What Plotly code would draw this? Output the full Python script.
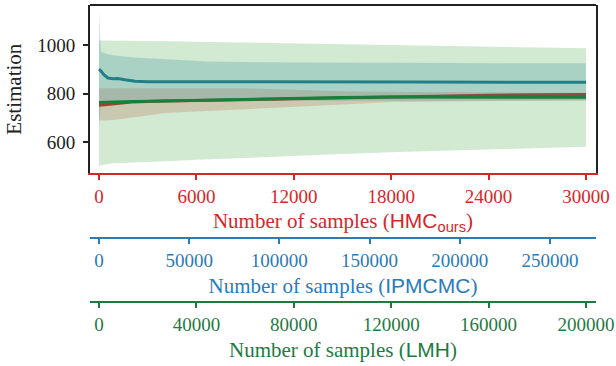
import plotly.graph_objects as go

# ---------------- data ----------------
# HMC (ours): x in samples (0..30000)
hmc_x = [0, 300, 1000, 2000, 3000, 4000, 6000, 9000, 12000, 15000, 18000, 21000, 24000, 27000, 30000]
hmc_mean = [752, 753, 758, 765, 768, 770, 772, 776, 779, 783, 787, 790, 793, 795, 796]
hmc_upper = [822, 822, 823, 824, 824, 824, 823, 822, 816, 810, 808, 806, 805, 804, 804]
hmc_lower = [689, 690, 693, 700, 710, 720, 728, 735, 745, 755, 765, 768, 770, 771, 772]

# IPMCMC: x in samples (0..270000)
ipm_x = [0, 1100, 2700, 5000, 7800, 10500, 14400, 20000, 27000, 40000, 60000, 90000, 130000, 180000, 230000, 270000]
ipm_mean = [900, 893, 878, 864, 861, 862, 857, 851, 849, 849, 851, 851, 850, 848, 847, 847]
ipm_upper = [1135, 972, 968, 962, 958, 955, 952, 948, 945, 940, 932, 929, 927, 926, 925, 925]
ipm_lower = [660, 770, 770, 770, 770, 770, 770, 771, 771, 771, 771, 772, 772, 772, 772, 772]

# LMH: x in samples (0..200000)
lmh_x = [0, 1000, 3000, 6000, 10000, 15000, 22000, 30000, 40000, 60000, 80000, 100000, 120000, 140000, 160000, 180000, 200000]
lmh_mean = [763, 764, 765, 766, 767, 768, 769, 771, 774, 777, 781, 784, 786, 786, 786, 785, 785]
lmh_upper = [1018, 1018, 1017, 1016, 1016, 1016, 1016, 1015, 1013, 1010, 1007, 1004, 1001, 998, 994, 990, 986]
lmh_lower = [504, 507, 510, 514, 517, 519, 521, 523, 528, 537, 545, 552, 559, 566, 572, 577, 582]

hmc_ticks = [0, 6000, 12000, 18000, 24000, 30000]
ipm_ticks = [0, 50000, 100000, 150000, 200000, 250000]
lmh_ticks = [0, 40000, 80000, 120000, 160000, 200000]
y_ticks = [600, 800, 1000]

# ---------------- style ----------------
RED = "#d62728"
BLUE = "#2b7bba"
GREEN = "#1f7a3f"
SERIF = "Liberation Serif"
SANS = "Liberation Sans"
FS = 19   # tick labels
FT = 21   # titles

W, H = 616, 366
ML, MR, MT, MB = 90, 20, 5, 0
ph = H - MT - MB


def ypos(px):
    return (H - MB - px) / ph


fig = go.Figure()


def band(xs, up, lo, color, xa):
    fig.add_trace(go.Scatter(x=list(xs) + list(xs)[::-1], y=list(up) + list(lo)[::-1],
                             fill="toself", fillcolor=color, line=dict(width=0),
                             mode="lines", xaxis=xa, yaxis="y", hoverinfo="skip",
                             showlegend=False))


band(lmh_x, lmh_upper, lmh_lower, "rgba(44,160,44,0.22)", "x3")
band(ipm_x, ipm_upper, ipm_lower, "rgba(31,119,180,0.22)", "x2")
band(hmc_x, hmc_upper, hmc_lower, "rgba(214,39,40,0.2)", "x")

fig.add_trace(go.Scatter(x=hmc_x, y=hmc_mean, mode="lines", line=dict(color="#bd2c2c", width=3),
                         xaxis="x", yaxis="y", showlegend=False))
fig.add_trace(go.Scatter(x=lmh_x, y=lmh_mean, mode="lines", line=dict(color="#17803a", width=3),
                         xaxis="x3", yaxis="y", showlegend=False))
fig.add_trace(go.Scatter(x=ipm_x, y=ipm_mean, mode="lines", line=dict(color="#1f77a0", width=3),
                         xaxis="x2", yaxis="y", showlegend=False))

lm, rm = 0.01848, 0.02053


def xrange(n):
    return [-lm * n, n * (1 + rm)]


def xax(color, ticks, rng, title, **kw):
    d = dict(range=rng, tickvals=ticks, ticktext=[str(t) for t in ticks],
             showgrid=False, zeroline=False, showline=True, linecolor=color, linewidth=1.8,
             ticks="outside", ticklen=5, tickwidth=1.5, tickcolor=color,
             tickfont=dict(family=SERIF, size=FS, color=color),
             title=dict(text=title, font=dict(family=SERIF, size=FT, color=color), standoff=7),
             automargin=False, fixedrange=True)
    d.update(kw)
    return d


fig.update_layout(
    width=W, height=H,
    margin=dict(l=ML, r=MR, t=MT, b=MB),
    plot_bgcolor="white", paper_bgcolor="white",
    xaxis=xax(RED, hmc_ticks, xrange(30000),
              f"Number of samples (<span style='font-family:{SANS}'>HMC<sub>ours</sub></span>)",
              anchor="y"),
    xaxis2=xax(BLUE, ipm_ticks, xrange(270000),
               f"Number of samples (<span style='font-family:{SANS}'>IPMCMC</span>)",
               overlaying="x", anchor="free", position=ypos(238.3), side="bottom"),
    xaxis3=xax(GREEN, lmh_ticks, xrange(200000),
               f"Number of samples (<span style='font-family:{SANS}'>LMH</span>)",
               overlaying="x", anchor="free", position=ypos(302.3), side="bottom"),
    yaxis=dict(domain=[ypos(173.3), 1], range=[472.6, 1164], tickvals=y_ticks,
               showgrid=False, zeroline=False, showline=True, linecolor="#222", linewidth=2,
               mirror=True, ticks="outside", ticklen=5, tickwidth=1.5, tickcolor="#222",
               tickfont=dict(family=SERIF, size=FS, color="#222"), ticklabelstandoff=4,
               title=dict(text="Estimation", font=dict(family=SERIF, size=FT, color="#222"), standoff=10),
               automargin=False, fixedrange=True),
    shapes=[dict(type="line", xref="paper", yref="paper", x0=0, x1=1, y0=1, y1=1,
                 line=dict(color="#222", width=2))],
)

fig.write_html("out.html")
